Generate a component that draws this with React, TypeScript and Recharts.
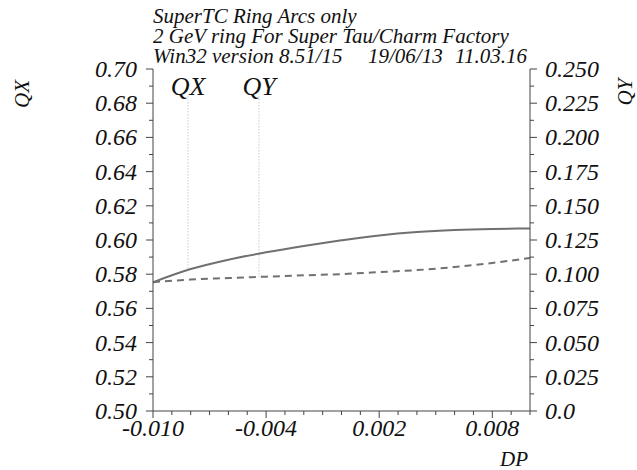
import React from "react";
import { LineChart, Line, XAxis, YAxis, ReferenceLine } from "recharts";

const dp = [-0.01, -0.008, -0.006, -0.004, -0.002, 0.0, 0.002, 0.004, 0.006, 0.008, 0.01];
const qx = [0.5753, 0.583, 0.5885, 0.5928, 0.5965, 0.5998, 0.6027, 0.6047, 0.6059, 0.6065, 0.6067];
const qy = [0.0942, 0.0961, 0.0972, 0.0982, 0.0992, 0.1001, 0.1015, 0.103, 0.1052, 0.1082, 0.1118];

const xMajorTicks = [-0.01, -0.004, 0.002, 0.008];
const xAllTicks = [
  -0.01, -0.009, -0.008, -0.007, -0.006, -0.005, -0.004, -0.003, -0.002, -0.001, 0.0,
  0.001, 0.002, 0.003, 0.004, 0.005, 0.006, 0.007, 0.008, 0.009, 0.01,
];
const leftMajorTicks = [0.5, 0.52, 0.54, 0.56, 0.58, 0.6, 0.62, 0.64, 0.66, 0.68, 0.7];
const leftAllTicks = [
  0.5, 0.51, 0.52, 0.53, 0.54, 0.55, 0.56, 0.57, 0.58, 0.59, 0.6,
  0.61, 0.62, 0.63, 0.64, 0.65, 0.66, 0.67, 0.68, 0.69, 0.7,
];
const rightMajorTicks = [0, 0.025, 0.05, 0.075, 0.1, 0.125, 0.15, 0.175, 0.2, 0.225, 0.25];
const rightAllTicks = [
  0, 0.0125, 0.025, 0.0375, 0.05, 0.0625, 0.075, 0.0875, 0.1, 0.1125, 0.125,
  0.1375, 0.15, 0.1625, 0.175, 0.1875, 0.2, 0.2125, 0.225, 0.2375, 0.25,
];

const titleLines = ["SuperTC Ring Arcs only", "2 GeV ring For Super Tau/Charm Factory"];
const versionText = "Win32 version 8.51/15";
const dateText = "19/06/13";
const timeText = "11.03.16";

// leader line positions for the QX / QY labels
const qxMarker = { dp: -0.00814, top: 0.684, bottom: 0.5826 };
const qyMarker = { dp: -0.00438, top: 0.23, bottom: 0.098 };

const data = dp.map((d, i) => ({ dp: d, qx: qx[i], qy: qy[i] }));

const FONT = "'Liberation Serif', 'Times New Roman', serif";
const AXIS = "#444";
const LINE = "#707070";
const textStyle: React.CSSProperties = { fontFamily: FONT, fontStyle: "italic", fontSize: 24 };

const isMajor = (list: number[], v: number) => list.some((m) => Math.abs(m - v) < 1e-9);

const BottomTick = (props: any) => {
  const { x, y, payload } = props;
  const major = isMajor(xMajorTicks, payload.value);
  return (
    <g>
      <line x1={x} y1={y} x2={x} y2={y + (major ? 7 : 4)} stroke={AXIS} strokeWidth={1} />
      {major && (
        <text x={x} y={y + 25} textAnchor="middle" style={textStyle} fill="#111">
          {payload.value.toFixed(3)}
        </text>
      )}
    </g>
  );
};

const TopTick = (props: any) => {
  const { x, y, payload } = props;
  const major = isMajor(xMajorTicks, payload.value);
  return <line x1={x} y1={y} x2={x} y2={y + (major ? 7 : 4)} stroke={AXIS} strokeWidth={1} />;
};

const LeftTick = (props: any) => {
  const { x, y, payload } = props;
  const major = isMajor(leftMajorTicks, payload.value);
  return (
    <g>
      <line x1={x} y1={y} x2={x - (major ? 7 : 4)} y2={y} stroke={AXIS} strokeWidth={1} />
      {major && (
        <text x={x - 16} y={y + 8} textAnchor="end" style={textStyle} fill="#111">
          {payload.value.toFixed(2)}
        </text>
      )}
    </g>
  );
};

const RightTick = (props: any) => {
  const { x, y, payload } = props;
  const major = isMajor(rightMajorTicks, payload.value);
  const v = payload.value;
  return (
    <g>
      <line x1={x} y1={y} x2={x + (major ? 7 : 4)} y2={y} stroke={AXIS} strokeWidth={1} />
      {major && (
        <text x={x + 15} y={y + 8} textAnchor="start" style={textStyle} fill="#111">
          {v === 0 ? "0.0" : v.toFixed(3)}
        </text>
      )}
    </g>
  );
};

export default function App() {
  return (
    <div style={{ position: "fixed", left: 0, top: 0, width: 637, height: 470, background: "#fff" }}>
      <LineChart width={637} height={470} data={data} margin={{ top: 69, right: 0, bottom: 0, left: 0 }}>
        <XAxis
          dataKey="dp"
          type="number"
          domain={[-0.01, 0.01]}
          allowDataOverflow
          ticks={xAllTicks}
          interval={0}
          tickSize={0}
          tickMargin={0}
          tickLine={false}
          tick={<BottomTick />}
          height={59}
          axisLine={{ stroke: AXIS }}
        />
        <XAxis
          xAxisId="top"
          dataKey="dp"
          type="number"
          orientation="top"
          mirror
          domain={[-0.01, 0.01]}
          allowDataOverflow
          ticks={xAllTicks}
          interval={0}
          tickSize={0}
          tickMargin={0}
          tickLine={false}
          tick={<TopTick />}
          height={0}
          axisLine={{ stroke: AXIS }}
        />
        <YAxis
          yAxisId="left"
          type="number"
          domain={[0.5, 0.7]}
          allowDataOverflow
          ticks={leftAllTicks}
          interval={0}
          tickSize={0}
          tickMargin={0}
          tickLine={false}
          tick={<LeftTick />}
          width={153}
          axisLine={{ stroke: AXIS }}
        />
        <YAxis
          yAxisId="right"
          orientation="right"
          type="number"
          domain={[0, 0.25]}
          allowDataOverflow
          ticks={rightAllTicks}
          interval={0}
          tickSize={0}
          tickMargin={0}
          tickLine={false}
          tick={<RightTick />}
          width={107}
          axisLine={{ stroke: AXIS }}
        />
        <ReferenceLine
          yAxisId="left"
          segment={[
            { x: qxMarker.dp, y: qxMarker.top },
            { x: qxMarker.dp, y: qxMarker.bottom },
          ]}
          stroke="#b0b0b0"
          strokeDasharray="1 2"
          strokeWidth={1}
        />
        <ReferenceLine
          yAxisId="right"
          segment={[
            { x: qyMarker.dp, y: qyMarker.top },
            { x: qyMarker.dp, y: qyMarker.bottom },
          ]}
          stroke="#b0b0b0"
          strokeDasharray="1 2"
          strokeWidth={1}
        />
        <Line
          yAxisId="left"
          type="monotone"
          dataKey="qx"
          stroke={LINE}
          strokeWidth={2}
          dot={false}
          isAnimationActive={false}
        />
        <Line
          yAxisId="right"
          type="monotone"
          dataKey="qy"
          stroke={LINE}
          strokeWidth={2}
          strokeDasharray="7 5"
          dot={false}
          isAnimationActive={false}
        />
      </LineChart>
      <svg
        width={637}
        height={470}
        style={{ position: "absolute", left: 0, top: 0, pointerEvents: "none", fontFamily: FONT, fontStyle: "italic" }}
        fill="#111"
      >
        <text x={153} y={23} fontSize={21}>{titleLines[0]}</text>
        <text x={153} y={43} fontSize={21}>{titleLines[1]}</text>
        <text x={153} y={63} fontSize={21}>{versionText}</text>
        <text x={368} y={63} fontSize={21}>{dateText}</text>
        <text x={455} y={63} fontSize={21}>{timeText}</text>
        <text x={188} y={95} fontSize={26} textAnchor="middle">QX</text>
        <text x={259} y={95} fontSize={26} textAnchor="middle">QY</text>
        <text x={29} y={94} fontSize={21} textAnchor="middle" transform="rotate(-90 29 94)">QX</text>
        <text x={632} y={92} fontSize={21} textAnchor="middle" transform="rotate(-90 632 92)">QY</text>
        <text x={528} y={466} fontSize={21} textAnchor="end">DP</text>
      </svg>
    </div>
  );
}
